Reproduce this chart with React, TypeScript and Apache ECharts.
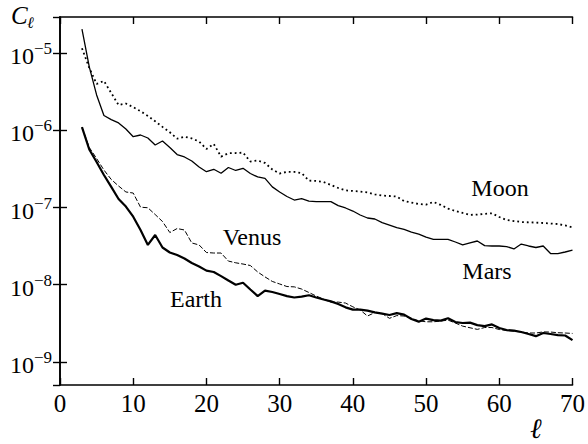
import React, { useEffect, useRef } from "react";
import * as echarts from "echarts";

// multipole degree ℓ = 3 … 70
const ells: number[] = Array.from({ length: 68 }, (_, i) => i + 3);

const marsC: number[] = [
  2.05e-5, 6.64e-6, 2.88e-6, 1.56e-6, 1.38e-6, 1.25e-6, 1.04e-6, 8.28e-7, 8.71e-7, 7.96e-7,
  6.47e-7, 7.29e-7, 6.0e-7, 4.86e-7, 4.52e-7, 4.01e-7, 3.35e-7, 2.91e-7, 3.13e-7, 2.78e-7,
  3.30e-7, 3.02e-7, 3.22e-7, 2.76e-7, 2.49e-7, 2.39e-7, 1.85e-7, 1.59e-7, 1.39e-7, 1.25e-7,
  1.30e-7, 1.21e-7, 1.19e-7, 1.19e-7, 1.19e-7, 1.06e-7, 9.86e-8, 9.0e-8, 8.0e-8, 7.31e-8,
  7.1e-8, 6.38e-8, 5.93e-8, 5.5e-8, 5.19e-8, 4.81e-8, 4.53e-8, 4.14e-8, 3.87e-8, 3.87e-8,
  3.87e-8, 3.57e-8, 3.27e-8, 3.47e-8, 3.68e-8, 3.21e-8, 3.17e-8, 3.17e-8, 3.12e-8, 2.9e-8,
  3.36e-8, 3.17e-8, 3.03e-8, 3.17e-8, 2.53e-8, 2.53e-8, 2.65e-8, 2.81e-8,
];

const moonC: number[] = [
  1.16e-5, 6.45e-6, 4.0e-6, 4.37e-6, 3.05e-6, 2.13e-6, 2.23e-6, 2.0e-6, 1.77e-6, 1.54e-6,
  1.31e-6, 1.11e-6, 9.45e-7, 7.8e-7, 8.28e-7, 7.85e-7, 7.18e-7, 5.74e-7, 6.67e-7, 4.56e-7,
  5.05e-7, 5.09e-7, 5.14e-7, 3.95e-7, 4.07e-7, 3.78e-7, 3.11e-7, 2.76e-7, 2.9e-7, 2.89e-7,
  2.8e-7, 2.23e-7, 2.21e-7, 2.14e-7, 1.96e-7, 1.79e-7, 1.67e-7, 1.64e-7, 1.61e-7, 1.57e-7,
  1.48e-7, 1.43e-7, 1.41e-7, 1.39e-7, 1.21e-7, 1.16e-7, 1.11e-7, 1.09e-7, 1.18e-7, 1.08e-7,
  9.7e-8, 9.0e-8, 8.49e-8, 8.04e-8, 8.1e-8, 8.28e-8, 8.41e-8, 7.53e-8, 6.89e-8, 6.68e-8,
  6.49e-8, 6.43e-8, 6.37e-8, 6.3e-8, 6.2e-8, 6.11e-8, 5.85e-8, 5.54e-8,
];

const earthC: number[] = [
  1.10e-6, 5.65e-7, 3.89e-7, 2.64e-7, 1.85e-7, 1.29e-7, 1.03e-7, 7.6e-8, 5.11e-8, 3.27e-8,
  4.4e-8, 3.03e-8, 2.61e-8, 2.42e-8, 2.18e-8, 1.91e-8, 1.72e-8, 1.52e-8, 1.46e-8, 1.29e-8,
  1.13e-8, 9.97e-9, 1.06e-8, 8.64e-9, 7.11e-9, 8.38e-9, 8.02e-9, 7.55e-9, 7.11e-9, 6.81e-9,
  7.01e-9, 7.29e-9, 6.81e-9, 6.41e-9, 6.07e-9, 5.6e-9, 5.08e-9, 4.75e-9, 4.75e-9, 4.61e-9,
  4.37e-9, 4.22e-9, 4.04e-9, 4.28e-9, 4.09e-9, 3.58e-9, 3.30e-9, 3.63e-9, 3.47e-9, 3.42e-9,
  3.66e-9, 3.27e-9, 3.18e-9, 3.22e-9, 2.99e-9, 2.9e-9, 3.05e-9, 2.74e-9, 2.58e-9, 2.54e-9,
  2.43e-9, 2.29e-9, 2.15e-9, 2.36e-9, 2.29e-9, 2.22e-9, 2.19e-9, 1.91e-9,
];

const venusC: number[] = [
  1.10e-6, 6.0e-7, 4.32e-7, 3.06e-7, 2.31e-7, 1.9e-7, 1.59e-7, 1.54e-7, 1.01e-7, 9.93e-8,
  8.11e-8, 6.58e-8, 4.74e-8, 5.34e-8, 5.11e-8, 3.47e-8, 3.27e-8, 2.61e-8, 2.57e-8, 2.57e-8,
  2.02e-8, 1.92e-8, 1.85e-8, 1.77e-8, 1.46e-8, 1.26e-8, 1.10e-8, 1.02e-8, 9.45e-9, 9.36e-9,
  8.77e-9, 7.91e-9, 7.11e-9, 6.5e-9, 5.94e-9, 5.94e-9, 5.77e-9, 5.16e-9, 4.69e-9, 3.92e-9,
  4.35e-9, 4.22e-9, 3.66e-9, 3.97e-9, 3.92e-9, 3.66e-9, 3.4e-9, 3.3e-9, 3.3e-9, 3.37e-9,
  3.47e-9, 3.18e-9, 2.9e-9, 2.76e-9, 2.63e-9, 2.78e-9, 2.78e-9, 2.62e-9, 2.54e-9, 2.49e-9,
  2.43e-9, 2.36e-9, 2.36e-9, 2.44e-9, 2.43e-9, 2.38e-9, 2.36e-9, 2.33e-9,
];

const xTicks = { min: 0, max: 70, interval: 10 };
const yRange = { min: 5e-10, max: 2.95e-5 };

const FAMILY = "Liberation Serif";
const FONT = "'Liberation Serif', serif";

const pair = (vals: number[]) => vals.map((v, i) => [ells[i], v]);

export default function App() {
  const ref = useRef<HTMLDivElement>(null);

  useEffect(() => {
    if (!ref.current) return;
    const chart = echarts.init(ref.current, undefined, { renderer: "svg" });

    const axisLine = { show: true, lineStyle: { color: "#000", width: 1.6 } };
    const tick = { show: true, inside: true, length: 7, lineStyle: { color: "#000", width: 1.4 } };

    const yFormatter = (v: number) => {
      const lg = Math.log10(v);
      const e = Math.round(lg);
      if (Math.abs(lg - e) > 1e-6) return "";
      return `{b|10}{s|−${-e}}`;
    };

    chart.setOption({
      animation: false,
      backgroundColor: "#fff",
      textStyle: { fontFamily: FAMILY },
      grid: { left: 60, right: 13, top: 17, bottom: 59, containLabel: false },
      xAxis: [
        {
          type: "value",
          position: "bottom",
          ...xTicks,
          axisLine,
          axisTick: tick,
          splitLine: { show: false },
          axisLabel: { color: "#000", fontSize: 25, fontFamily: FAMILY, margin: 6 },
        },
        {
          type: "value",
          position: "top",
          ...xTicks,
          axisLine,
          axisTick: tick,
          splitLine: { show: false },
          axisLabel: { show: false },
        },
      ],
      yAxis: [
        {
          type: "log",
          logBase: 10,
          position: "left",
          ...yRange,
          axisLine,
          axisTick: tick,
          minorTick: { show: false },
          splitLine: { show: false },
          axisLabel: {
            formatter: yFormatter,
            showMinLabel: false,
            showMaxLabel: false,
            margin: 8,
            fontFamily: FAMILY,
            rich: {
              b: { fontSize: 24, fontFamily: FAMILY, color: "#000", padding: [6, 0, 0, 0] },
              s: { fontSize: 17, fontFamily: FAMILY, color: "#000", padding: [0, 0, 9, 0] },
            },
          },
        },
        {
          type: "log",
          logBase: 10,
          position: "right",
          ...yRange,
          axisLine,
          axisTick: tick,
          minorTick: { show: false },
          splitLine: { show: false },
          axisLabel: { show: false },
        },
      ],
      series: [
        {
          name: "Mars",
          type: "line",
          data: pair(marsC),
          showSymbol: false,
          lineStyle: { color: "#000", width: 1.3 },
          z: 3,
        },
        {
          name: "Moon",
          type: "line",
          data: pair(moonC),
          showSymbol: false,
          lineStyle: { color: "#000", width: 1.8, type: [1.8, 3] },
          z: 3,
        },
        {
          name: "Earth",
          type: "line",
          data: pair(earthC),
          showSymbol: false,
          lineStyle: { color: "#000", width: 2.2 },
          z: 3,
        },
        {
          name: "Venus",
          type: "line",
          data: pair(venusC),
          showSymbol: false,
          lineStyle: { color: "#000", width: 1, type: [5, 2] },
          z: 3,
        },
      ],
      graphic: [
        {
          type: "text",
          left: 11,
          top: 3,
          style: { text: "C", font: `italic 25px ${FONT}`, fill: "#000" },
        },
        {
          type: "text",
          left: 27,
          top: 14,
          style: { text: "ℓ", font: `italic 16px ${FONT}`, fill: "#000" },
        },
        {
          type: "text",
          left: 530,
          top: 414,
          style: { text: "ℓ", font: `italic 28px ${FONT}`, fill: "#000" },
        },
        {
          type: "text",
          x: 500,
          y: 188,
          style: { text: "Moon", font: `24px ${FONT}`, fill: "#000", align: "center", verticalAlign: "middle" },
        },
        {
          type: "text",
          x: 487,
          y: 271,
          style: { text: "Mars", font: `24px ${FONT}`, fill: "#000", align: "center", verticalAlign: "middle" },
        },
        {
          type: "text",
          x: 252,
          y: 237,
          style: { text: "Venus", font: `24px ${FONT}`, fill: "#000", align: "center", verticalAlign: "middle" },
        },
        {
          type: "text",
          x: 196,
          y: 299,
          style: { text: "Earth", font: `24px ${FONT}`, fill: "#000", align: "center", verticalAlign: "middle" },
        },
      ],
    });

    return () => chart.dispose();
  }, []);

  return <div ref={ref} style={{ width: 588, height: 444, position: "absolute", left: 0, top: 0 }} />;
}
